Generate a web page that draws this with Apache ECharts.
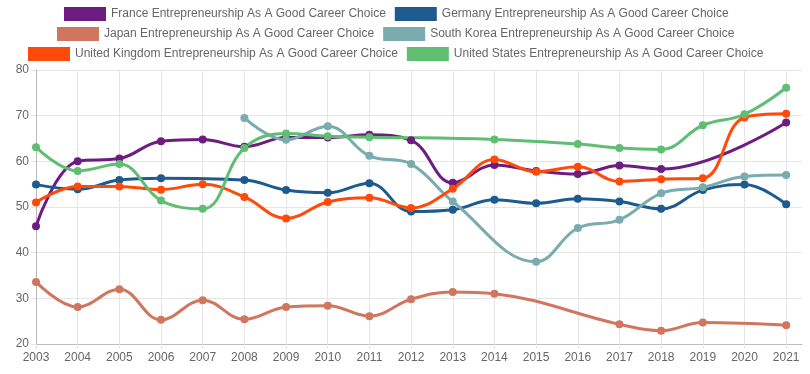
<!DOCTYPE html>
<html>
<head>
<meta charset="utf-8">
<script src="https://cdn.jsdelivr.net/npm/echarts@6/dist/echarts.min.js"></script>
<style>html,body{margin:0;padding:0;background:#fff;}#c{width:810px;height:374px;}</style>
</head>
<body>
<div id="c"></div>
<script>
const years = [2003,2004,2005,2006,2007,2008,2009,2010,2011,2012,2013,2014,2015,2016,2017,2018,2019,2020,2021];
const france = [45.8,60.0,60.6,64.4,64.8,63.2,65.2,65.2,65.8,64.6,55.3,59.2,57.9,57.2,59.1,58.3,null,null,68.5];
const germany = [54.9,53.9,55.9,56.3,null,55.9,53.7,53.1,55.2,49.0,49.4,51.6,50.8,51.8,51.2,49.6,53.7,54.9,50.6];
const japan = [33.6,28.1,32.0,25.3,29.6,25.4,28.1,28.4,26.1,29.8,31.4,31.0,null,null,24.3,22.9,24.7,null,24.1];
const southKorea = [null,null,null,null,null,69.5,64.7,67.7,61.2,59.4,51.2,null,38.0,45.4,47.2,53.0,54.3,56.7,57.0];
const uk = [51.0,54.5,54.5,53.8,55.0,52.2,47.5,51.1,52.0,49.8,54.0,60.4,57.7,58.8,55.6,56.1,56.3,69.6,70.4];
const us = [63.1,57.9,59.4,51.4,49.6,62.9,66.1,65.5,65.3,null,null,64.8,null,63.8,62.9,62.6,67.9,70.3,76.1];
const names = [
  'France Entrepreneurship As A Good Career Choice',
  'Germany Entrepreneurship As A Good Career Choice',
  'Japan Entrepreneurship As A Good Career Choice',
  'South Korea Entrepreneurship As A Good Career Choice',
  'United Kingdom Entrepreneurship As A Good Career Choice',
  'United States Entrepreneurship As A Good Career Choice'
];
const colors = ['#6d1c80','#1c5a8f','#d0765f','#7aabad','#ff4a0a','#5fbe72'];
const seriesData = [france, germany, japan, southKorea, uk, us];

const chart = echarts.init(document.getElementById('c'));
const legendBase = {
  orient: 'horizontal', icon: 'rect', itemWidth: 42, itemHeight: 14, padding: 0,
  itemGap: 9, textStyle: { fontFamily: 'Liberation Sans, Arial, sans-serif', fontSize: 12, color: '#666' },
  selectedMode: false
};
chart.setOption({
  animation: false,
  color: colors,
  legend: [
    Object.assign({}, legendBase, { left: 64, top: 7, data: [names[0], names[1]] }),
    Object.assign({}, legendBase, { left: 57, top: 27, data: [names[2], names[3]] }),
    Object.assign({}, legendBase, { left: 28, top: 47, data: [names[4], names[5]] })
  ],
  grid: { left: 36, right: 8, top: 70, bottom: 30, containLabel: false },
  xAxis: {
    type: 'value', min: 2003, max: 2021.38, interval: 1,
    axisLine: { show: true, lineStyle: { color: '#bbb' } },
    axisTick: { show: true, length: 5, lineStyle: { color: '#e6e6e6' } },
    axisLabel: { color: '#666', fontSize: 12, fontFamily: 'Liberation Sans, Arial, sans-serif', margin: 8, showMaxLabel: false,
      formatter: v => (Number.isInteger(v) ? String(v) : '') },
    splitLine: { show: true, showMaxLine: false, lineStyle: { color: '#e6e6e6' } }
  },
  yAxis: {
    type: 'value', min: 20, max: 80, interval: 10,
    axisLine: { show: true, lineStyle: { color: '#bbb' } },
    axisTick: { show: true, length: 5, lineStyle: { color: '#e6e6e6' } },
    axisLabel: { color: '#666', fontSize: 12, fontFamily: 'Liberation Sans, Arial, sans-serif', margin: 7 },
    splitLine: { show: true, lineStyle: { color: '#e6e6e6' } }
  },
  series: names.map((n, i) => ({
    name: n, type: 'line', smooth: 0.4, connectNulls: true,
    symbol: 'circle', symbolSize: 8, showAllSymbol: true,
    lineStyle: { width: 3, color: colors[i] },
    itemStyle: { color: colors[i] },
    data: years.map((y, k) => [y, seriesData[i][k]]).filter(p => p[1] !== null)
  }))
});
</script>
</body>
</html>
